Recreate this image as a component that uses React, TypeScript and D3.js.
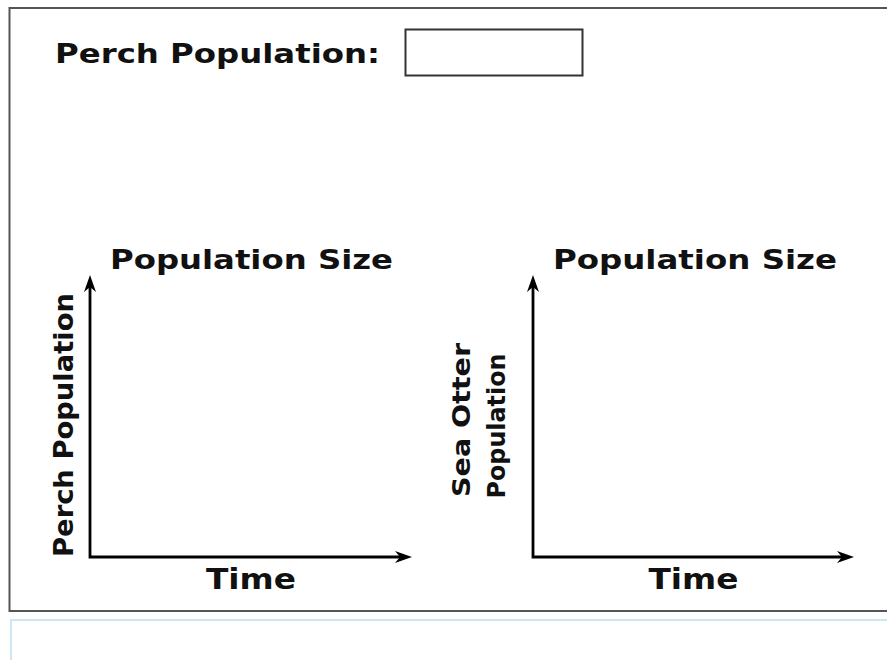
import { useEffect, useRef } from 'react';
import * as d3 from 'd3';

// text content of the worksheet
const headerLabel = 'Perch Population:';
const panelTitles = ['Population Size', 'Population Size'];
const xAxisLabels = ['Time', 'Time'];
const yAxisLabels = [['Perch Population'], ['Sea Otter', 'Population']];

const W = 887;
const H = 660;
const FONT = '"DejaVu Sans", Verdana, sans-serif';

// layout (pixels), kept apart from the labels
const panels = [
  {
    x0: 90,
    x1: 412,
    titleLen: 283,
    yLab: [{ bx: 73, cy: 425, len: 264, size: 27 }],
  },
  {
    x0: 533,
    x1: 854,
    titleLen: 284,
    yLab: [
      { bx: 470, cy: 420, len: 154, size: 25 },
      { bx: 505, cy: 426, len: 145, size: 25 },
    ],
  },
];
const axisTop = 275;
const axisBottom = 557;

export default function App() {
  const svgRef = useRef<SVGSVGElement | null>(null);

  useEffect(() => {
    const svgEl = svgRef.current;
    if (!svgEl) return;
    const svg = d3.select(svgEl);
    svg.selectAll('*').remove();

    svg.append('rect').attr('width', W).attr('height', H).attr('fill', '#fff');

    // outer frame (runs off the right edge)
    svg
      .append('path')
      .attr('d', `M${W + 10},8 H9.5 V611 H${W + 10}`)
      .attr('fill', 'none')
      .attr('stroke', '#555')
      .attr('stroke-width', 2);

    // answer box below
    svg
      .append('path')
      .attr('d', `M${W + 10},620 H11 V${H + 10}`)
      .attr('fill', 'none')
      .attr('stroke', '#cde6f1')
      .attr('stroke-width', 2);

    // header
    svg
      .append('text')
      .attr('x', 55)
      .attr('y', 63)
      .attr('font-family', FONT)
      .attr('font-weight', 'bold')
      .attr('font-size', 27)
      .attr('fill', '#111')
      .attr('textLength', 325)
      .attr('lengthAdjust', 'spacingAndGlyphs')
      .text(headerLabel);

    svg
      .append('rect')
      .attr('x', 405.5)
      .attr('y', 29.5)
      .attr('width', 177)
      .attr('height', 46)
      .attr('fill', '#fff')
      .attr('stroke', '#333')
      .attr('stroke-width', 2);

    const arrow = 'M0,0 L-17,-6 L-12,0 L-17,6 Z';

    panels.forEach((p, i) => {
      const x = d3.scaleLinear().domain([0, 1]).range([p.x0, p.x1]);
      const y = d3.scaleLinear().domain([0, 1]).range([axisBottom, axisTop]);

      const g = svg.append('g');

      g.append('path')
        .attr('d', `M${x(0)},${y(1) + 8} V${y(0)} H${x(1) - 8}`)
        .attr('fill', 'none')
        .attr('stroke', '#000')
        .attr('stroke-width', 2.8)
        .attr('stroke-linejoin', 'miter');

      g.append('path')
        .attr('d', arrow)
        .attr('transform', `translate(${x(1)},${y(0)})`)
        .attr('fill', '#000');

      g.append('path')
        .attr('d', arrow)
        .attr('transform', `translate(${x(0)},${y(1)}) rotate(-90)`)
        .attr('fill', '#000');

      g.append('text')
        .attr('x', x(0) + 20)
        .attr('y', 269)
        .attr('font-family', FONT)
        .attr('font-weight', 'bold')
        .attr('font-size', 27)
        .attr('fill', '#111')
        .attr('textLength', p.titleLen)
        .attr('lengthAdjust', 'spacingAndGlyphs')
        .text(panelTitles[i]);

      g.append('text')
        .attr('x', x(0.5))
        .attr('y', 589)
        .attr('text-anchor', 'middle')
        .attr('font-family', FONT)
        .attr('font-weight', 'bold')
        .attr('font-size', 28)
        .attr('fill', '#111')
        .attr('textLength', 90)
        .attr('lengthAdjust', 'spacingAndGlyphs')
        .text(xAxisLabels[i]);

      yAxisLabels[i].forEach((line, j) => {
        const l = p.yLab[j];
        g.append('text')
          .attr('transform', `translate(${l.bx},${l.cy}) rotate(-90)`)
          .attr('text-anchor', 'middle')
          .attr('font-family', FONT)
          .attr('font-weight', 'bold')
          .attr('font-size', l.size)
          .attr('fill', '#111')
          .attr('textLength', l.len)
          .attr('lengthAdjust', 'spacingAndGlyphs')
          .text(line);
      });
    });
  }, []);

  return (
    <svg
      ref={svgRef}
      width={W}
      height={H}
      style={{ position: 'absolute', left: 0, top: 0, display: 'block' }}
    />
  );
}
